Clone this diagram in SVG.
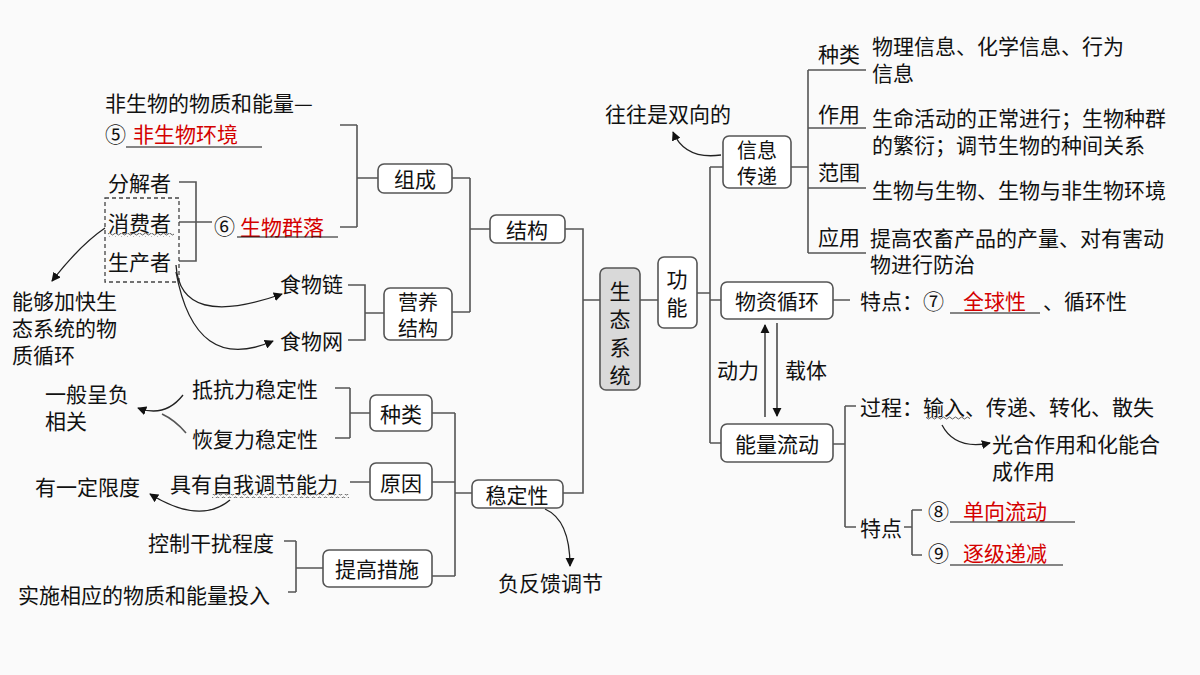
<svg xmlns="http://www.w3.org/2000/svg" width="1200" height="675" viewBox="0 0 1200 675">
<defs>
<marker id="ah" viewBox="0 0 10 10" refX="9" refY="5" markerWidth="7" markerHeight="7" orient="auto"><path d="M0,0 L10,5 L0,10 z" fill="#111"/></marker>
<pattern id="wv" width="6" height="4" patternUnits="userSpaceOnUse"><path d="M0,2 Q1.5,0 3,2 T6,2" fill="none" stroke="#333" stroke-width="0.8"/></pattern>
</defs>
<style>
text{font-family:"Noto Sans CJK SC","Liberation Sans",sans-serif;font-size:21px;fill:#111;dominant-baseline:central}
.b{font-size:20px}
.r{fill:#d40000}
.box{fill:#fff;stroke:#555;stroke-width:1.6}
.ln{fill:none;stroke:#555;stroke-width:1.6}
.ul{stroke:#111;stroke-width:1.2}
.ar{fill:none;stroke:#222;stroke-width:1.3;marker-end:url(#ah)}
</style>
<rect width="1200" height="675" fill="#fafafa"/>
<g id="connectors">
<path class="ln" d="M640,300H658 M600,300H583 M565,229H583V493H563"/>
<path class="ln" d="M697,293H710 M710,167V443 M710,167H723 M710,300H721 M710,443H721"/>
<path class="ln" d="M791,167H808 M808,70V253 M808,70H866 M808,128H866 M808,188H866 M808,253H866"/>
<path class="ln" d="M833,300H850 M833,444H845 M845,406V527 M845,406H856 M845,527H856 M904,527H912 M912,510V555 M912,510H922 M912,555H922"/>
<path class="ln" d="M452,178H470 M452,312H470 M470,178V312 M470,229H490"/>
<path class="ln" d="M378,178H357 M357,125V227 M357,125H340 M357,227H340"/>
<path class="ln" d="M179,182H196V261H179 M179,222H212"/>
<path class="ln" d="M384,313H365 M348,285H365V340H348"/>
<path class="ln" d="M432,413H455 M432,482H455 M432,576H455 M455,413V576 M455,493H472"/>
<path class="ln" d="M370,413H350 M350,388V438 M335,388H350 M335,438H350 M370,482H350"/>
<path class="ln" d="M323,568H296 M296,541V592 M284,541H296 M288,592H296"/>
<rect x="105" y="198" width="74" height="84" fill="none" stroke="#444" stroke-width="1.3" stroke-dasharray="4,3"/>
<path class="ar" d="M765,417V325"/>
<path class="ar" d="M777,323V416"/>
<path class="ar" d="M721,155Q685,160 673,132"/>
<path class="ar" d="M105,228Q80,245 52,281"/>
<path class="ar" d="M176,265Q180,330 282,294"/>
<path class="ar" d="M176,272Q195,375 273,341"/>
<path class="ar" d="M183,395Q165,418 138,408"/>
<path class="ln" d="M162,414Q175,420 186,433" stroke="#222" stroke-width="1.3"/>
<path class="ar" d="M230,500Q200,525 150,494"/>
<path class="ar" d="M545,509Q570,520 570,566"/>
<path class="ar" d="M942,425Q955,450 990,443"/>
</g>
<g id="n-center"><rect x="600" y="268" width="40" height="122" rx="6" fill="#d9d9d9" stroke="#555" stroke-width="1.6"/>
<text x="620" y="290" text-anchor="middle">生</text><text x="620" y="318" text-anchor="middle">态</text><text x="620" y="346" text-anchor="middle">系</text><text x="620" y="374" text-anchor="middle">统</text></g>
<g id="n-gn"><rect class="box" x="658" y="257" width="39" height="71" rx="6"/><text x="677" y="278" text-anchor="middle">功</text><text x="677" y="306" text-anchor="middle">能</text></g>
<g id="n-xx"><rect class="box" x="723" y="136" width="68" height="52" rx="6"/><text class="b" x="757" y="149" text-anchor="middle">信息</text><text class="b" x="757" y="175" text-anchor="middle">传递</text></g>
<g id="n-wz"><rect class="box" x="721" y="282" width="112" height="37" rx="6"/><text x="777" y="300" text-anchor="middle">物资循环</text></g>
<g id="n-nl"><rect class="box" x="721" y="424" width="112" height="38" rx="6"/><text x="777" y="443" text-anchor="middle">能量流动</text></g>
<g id="n-info">
<text x="818" y="53">种类</text><text x="872" y="45">物理信息、化学信息、行为</text><text x="872" y="72">信息</text>
<text x="818" y="113">作用</text><text x="872" y="117">生命活动的正常进行；生物种群</text><text x="872" y="144">的繁衍；调节生物的种间关系</text>
<text x="818" y="171">范围</text><text x="872" y="189">生物与生物、生物与非生物环境</text>
<text x="818" y="236">应用</text><text x="870" y="237">提高农畜产品的产量、对有害动</text><text x="870" y="263">物进行防治</text>
<text x="605" y="113">往往是双向的</text></g>
<g id="n-wzt"><text x="860" y="300">特点：⑦</text><text class="r" x="963" y="300">全球性</text><line class="ul" x1="950" y1="313" x2="1040" y2="313"/><text x="1043" y="300">、循环性</text>
<text x="717" y="369">动力</text><text x="785" y="369">载体</text></g>
<g id="n-nlt"><text x="860" y="406">过程：输入、传递、转化、散失</text><rect x="926" y="416" width="44" height="4" fill="url(#wv)"/>
<text x="992" y="443">光合作用和化能合</text><text x="992" y="470">成作用</text>
<text x="860" y="527">特点</text><text x="928" y="510">⑧</text><text class="r" x="963" y="510">单向流动</text><line class="ul" x1="950" y1="522" x2="1075" y2="522"/>
<text x="928" y="552">⑨</text><text class="r" x="963" y="552">逐级递减</text><line class="ul" x1="950" y1="565" x2="1063" y2="565"/></g>
<g id="n-jg"><rect class="box" x="490" y="215" width="75" height="28" rx="6"/><text x="527" y="229" text-anchor="middle">结构</text></g>
<g id="n-zc"><rect class="box" x="378" y="164" width="74" height="29" rx="6"/><text x="415" y="178" text-anchor="middle">组成</text></g>
<g id="n-yy"><rect class="box" x="384" y="288" width="68" height="52" rx="6"/><text class="b" x="418" y="301" text-anchor="middle">营养</text><text class="b" x="418" y="327" text-anchor="middle">结构</text></g>
<g id="n-zcl"><text x="105" y="102">非生物的物质和能量—</text><text x="105" y="133">⑤</text><text class="r" x="133" y="133">非生物环境</text><line class="ul" x1="126" y1="147" x2="262" y2="147"/>
<text x="108" y="182">分解者</text><text x="108" y="222">消费者</text><rect x="108" y="233" width="66" height="4" fill="url(#wv)"/><text x="108" y="261">生产者</text>
<text x="214" y="225">⑥</text><text class="r" x="240" y="226">生物群落</text><line class="ul" x1="237" y1="237" x2="338" y2="237"/>
<text x="12" y="300">能够加快生</text><text x="12" y="327">态系统的物</text><text x="12" y="354">质循环</text>
<text x="280" y="283">食物链</text><text x="280" y="340">食物网</text></g>
<g id="n-wdx"><rect class="box" x="472" y="480" width="91" height="28" rx="6"/><text x="517" y="494" text-anchor="middle">稳定性</text></g>
<g id="n-zl"><rect class="box" x="370" y="395" width="62" height="36" rx="6"/><text x="401" y="413" text-anchor="middle">种类</text></g>
<g id="n-yy2"><rect class="box" x="370" y="463" width="62" height="37" rx="6"/><text x="401" y="482" text-anchor="middle">原因</text></g>
<g id="n-tg"><rect class="box" x="323" y="550" width="109" height="37" rx="6"/><text x="377" y="568" text-anchor="middle">提高措施</text></g>
<g id="n-wdl"><text x="192" y="388">抵抗力稳定性</text><text x="192" y="438">恢复力稳定性</text><text x="45" y="393">一般呈负</text><text x="45" y="420">相关</text>
<text x="170" y="483">具有自我调节能力</text><rect x="212" y="494" width="137" height="4" fill="url(#wv)"/><text x="35" y="486">有一定限度</text>
<text x="148" y="542">控制干扰程度</text><text x="18" y="594">实施相应的物质和能量投入</text><text x="498" y="582">负反馈调节</text></g>
</svg>
